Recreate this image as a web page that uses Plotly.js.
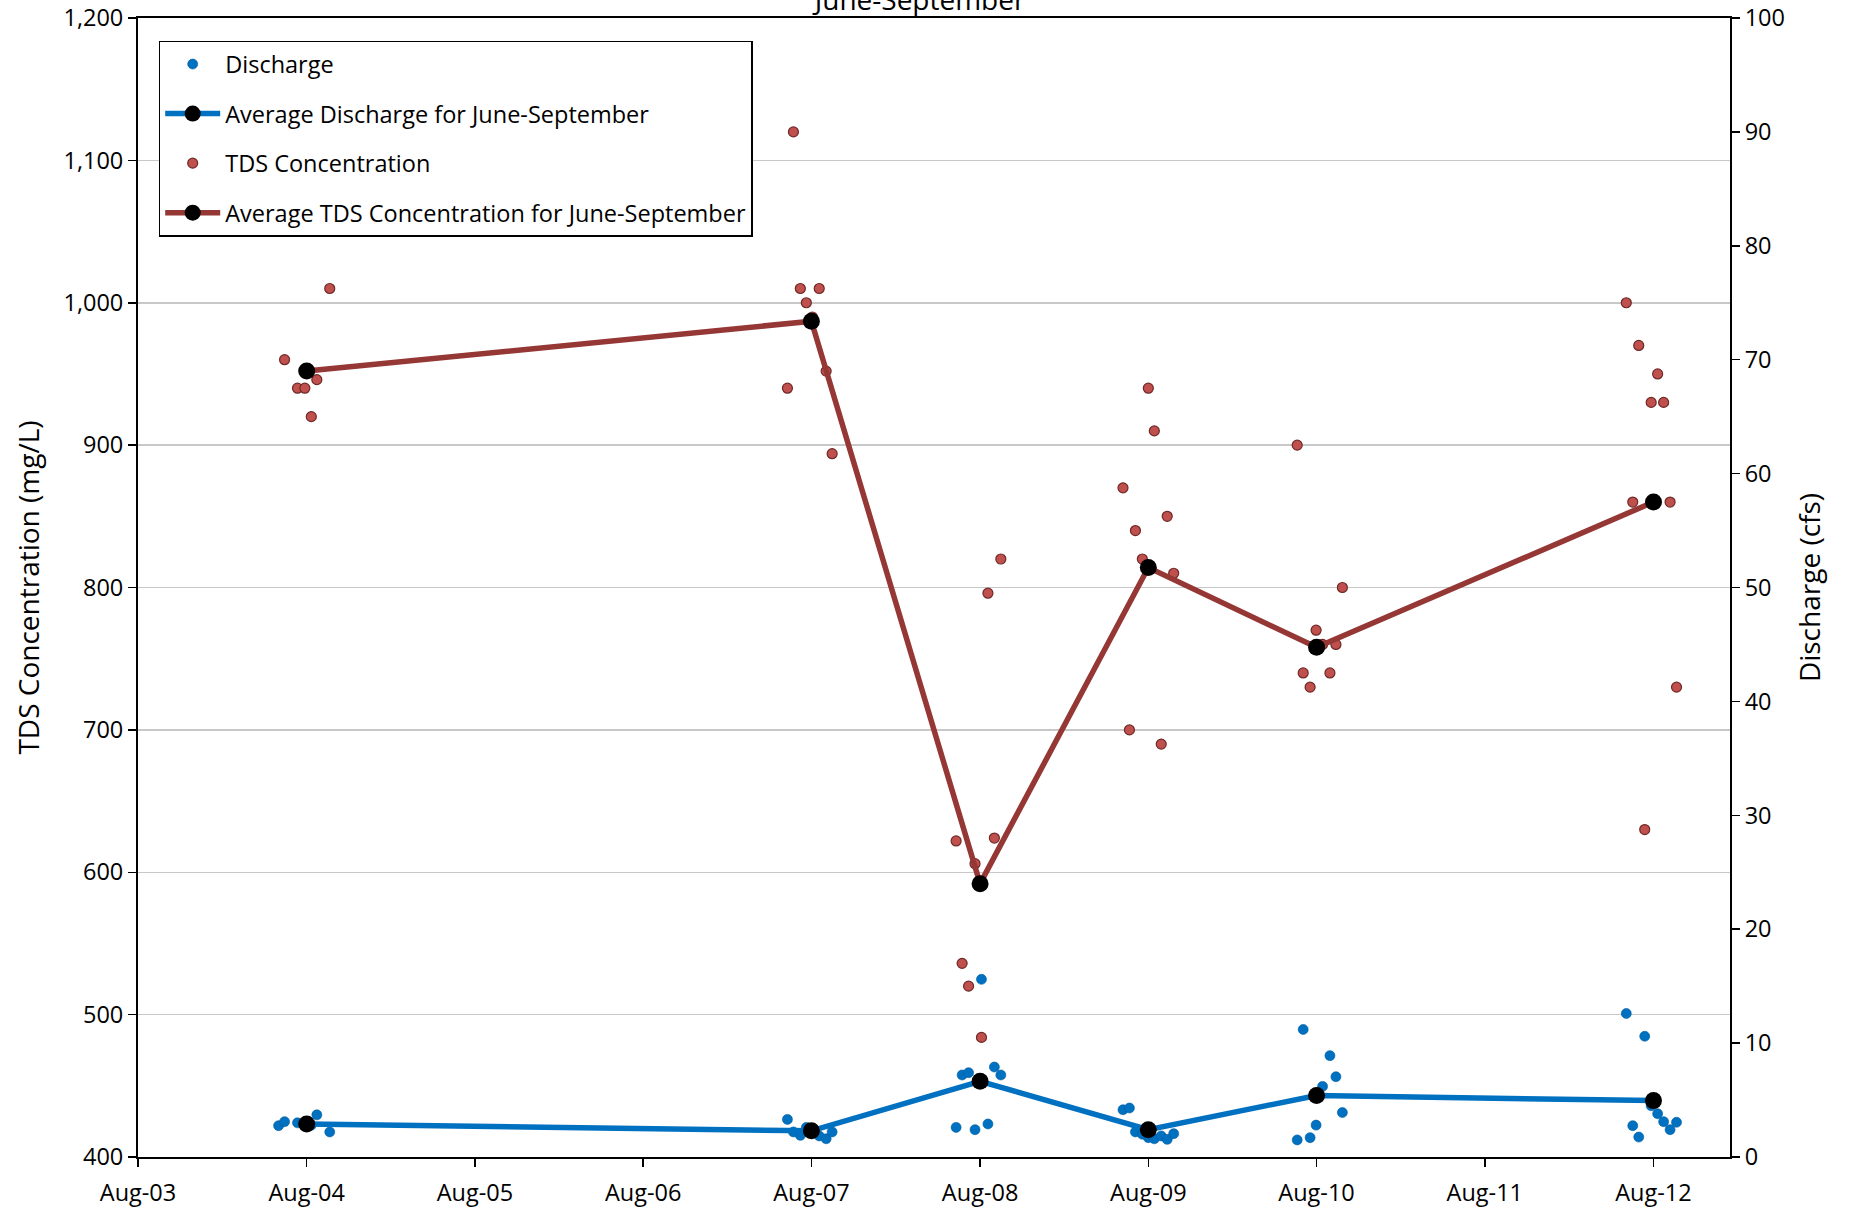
<!DOCTYPE html>
<html>
<head>
<meta charset="utf-8">
<script src="https://cdn.plot.ly/plotly-3.0.1.min.js"></script>
<style>
  html, body { margin: 0; padding: 0; background: #fff; }
  #chart { width: 1849px; height: 1209px; }
</style>
</head>
<body>
<div id="chart"></div>
<script>
// ---- Data ----
const dischargeDates = [
  "2004-06-01","2004-06-14","2004-07-12","2004-07-28","2004-08-11","2004-08-23","2004-09-20",
  "2007-06-10","2007-06-23","2007-07-08","2007-07-21","2007-08-03","2007-08-18","2007-09-02","2007-09-15",
  "2008-06-10","2008-06-23","2008-07-07","2008-07-21","2008-08-04","2008-08-18","2008-09-01","2008-09-15",
  "2009-06-07","2009-06-21","2009-07-04","2009-07-19","2009-08-01","2009-08-14","2009-08-29","2009-09-11","2009-09-25",
  "2010-06-20","2010-07-03","2010-07-18","2010-07-31","2010-08-14","2010-08-30","2010-09-12","2010-09-26",
  "2012-06-03","2012-06-17","2012-06-30","2012-07-13","2012-07-27","2012-08-10","2012-08-23","2012-09-06","2012-09-20"
];
const dischargeValues = [
  2.75, 3.1, 3.0, 3.0, 2.8, 3.7, 2.2,
  3.3, 2.2, 1.9, 2.6, 2.4, 1.85, 1.6, 2.2,
  2.6, 7.2, 7.4, 2.4, 15.6, 2.9, 7.9, 7.2,
  4.15, 4.3, 2.2, 2.0, 1.7, 1.6, 1.85, 1.55, 2.05,
  1.5, 11.2, 1.7, 2.8, 6.2, 8.9, 7.05, 3.9,
  12.6, 2.75, 1.75, 10.6, 4.5, 3.8, 3.1, 2.4, 3.05
];

const tdsDates = [
  "2004-06-14","2004-07-12","2004-07-28","2004-08-11","2004-08-23","2004-09-20",
  "2007-06-10","2007-06-23","2007-07-08","2007-07-21","2007-08-03","2007-08-18","2007-09-02","2007-09-15",
  "2008-06-10","2008-06-23","2008-07-07","2008-07-21","2008-08-04","2008-08-18","2008-09-01","2008-09-15",
  "2009-06-07","2009-06-21","2009-07-04","2009-07-19","2009-08-01","2009-08-14","2009-08-29","2009-09-11","2009-09-25",
  "2010-06-20","2010-07-03","2010-07-18","2010-07-31","2010-08-14","2010-08-30","2010-09-12","2010-09-26",
  "2012-06-03","2012-06-17","2012-06-30","2012-07-13","2012-07-27","2012-08-10","2012-08-23","2012-09-06","2012-09-20"
];
const tdsValues = [
  960, 940, 940, 920, 946, 1010,
  940, 1120, 1010, 1000, 990, 1010, 952, 894,
  622, 536, 520, 606, 484, 796, 624, 820,
  870, 700, 840, 820, 940, 910, 690, 850, 810,
  900, 740, 730, 770, 760, 740, 760, 800,
  1000, 860, 970, 630, 930, 950, 930, 860, 730
];

const avgDates = ["2004-08-01","2007-08-01","2008-08-01","2009-08-01","2010-08-01","2012-08-01"];
const avgDischarge = [2.9, 2.3, 6.65, 2.4, 5.4, 4.95];
const avgTDS = [952, 987, 592, 814, 758, 860];

const seriesNames = [
  "Discharge",
  "Average Discharge for June-September",
  "TDS Concentration",
  "Average TDS Concentration for June-September"
];
const chartTitle = "June-September";
const leftTitle = "TDS Concentration (mg/L)";
const rightTitle = "Discharge (cfs)";

// ---- Styling ----
const FONT = "'Open Sans', 'Noto Sans', sans-serif";
const BLUE = "#0070C0";
const RED_FILL = "#C0504D";
const RED_EDGE = "#6E2927";
const RED_LINE = "#953735";
const TICK = 23.5;
const AXT = 28;

const traces = [
  {
    x: dischargeDates, y: dischargeValues, yaxis: "y2",
    type: "scatter", mode: "markers", name: seriesNames[0], legendgroup: "a",
    marker: { color: BLUE, size: 10, line: { color: "#005C9E", width: 0.6 } }
  },
  {
    x: avgDates, y: avgDischarge, yaxis: "y2",
    type: "scatter", mode: "lines+markers", name: seriesNames[1], legendgroup: "b",
    line: { color: BLUE, width: 5.5 },
    marker: { color: "#000000", size: 17 }
  },
  {
    x: tdsDates, y: tdsValues, yaxis: "y",
    type: "scatter", mode: "markers", name: seriesNames[2], legendgroup: "c",
    marker: { color: RED_FILL, size: 10, line: { color: RED_EDGE, width: 1.2 } }
  },
  {
    x: avgDates, y: avgTDS, yaxis: "y",
    type: "scatter", mode: "lines+markers", name: seriesNames[3], legendgroup: "d",
    line: { color: RED_LINE, width: 5.5 },
    marker: { color: "#000000", size: 17 }
  }
];

const layout = {
  width: 1849, height: 1209,
  paper_bgcolor: "#ffffff", plot_bgcolor: "#ffffff",
  font: { family: FONT, size: TICK, color: "#000000" },
  margin: { l: 138, r: 119, t: 18, b: 52, pad: 0 },
  title: {
    text: chartTitle,
    font: { family: FONT, size: 28, color: "#000000" },
    xref: "container", x: 0.4976, xanchor: "center",
    yref: "container", y: 1.0, yanchor: "middle"
  },
  showlegend: true,
  legend: {
    x: 0.013, y: 0.98, xanchor: "left", yanchor: "top",
    bgcolor: "#ffffff", bordercolor: "#000000", borderwidth: 1.5,
    font: { family: FONT, size: TICK, color: "#000000" },
    traceorder: "grouped", tracegroupgap: 16,
    itemwidth: 55
  },
  xaxis: {
    type: "date",
    range: ["2003-08-01", "2013-01-14"],
    tick0: "2003-08-01", dtick: "M12", tickformat: "%b-%y",
    ticks: "outside", ticklen: 8, tickwidth: 1.5, tickcolor: "#000000",
    showline: true, linecolor: "#000000", linewidth: 2, mirror: true,
    showgrid: false, zeroline: false,
    ticklabelstandoff: 6,
    tickfont: { family: FONT, size: TICK, color: "#000000" }
  },
  yaxis: {
    range: [400, 1200], dtick: 100, tick0: 400, tickformat: ",d",
    ticks: "outside", ticklen: 8, tickwidth: 1.5, tickcolor: "#000000",
    showline: true, linecolor: "#000000", linewidth: 2,
    showgrid: true, gridcolor: "#C8C8C8", gridwidth: 1.5, zeroline: false,
    tickfont: { family: FONT, size: TICK, color: "#000000" },
    title: { text: leftTitle, font: { family: FONT, size: AXT, color: "#000000" }, standoff: 16 }
  },
  yaxis2: {
    overlaying: "y", side: "right",
    range: [0, 100], dtick: 10, tick0: 0,
    ticks: "outside", ticklen: 8, tickwidth: 1.5, tickcolor: "#000000",
    showline: true, linecolor: "#000000", linewidth: 2,
    showgrid: false, zeroline: false,
    tickfont: { family: FONT, size: TICK, color: "#000000" },
    title: { text: rightTitle, font: { family: FONT, size: AXT, color: "#000000" }, standoff: 16 }
  }
};

Plotly.newPlot("chart", traces, layout, { staticPlot: true, displayModeBar: false });
</script>
</body>
</html>
